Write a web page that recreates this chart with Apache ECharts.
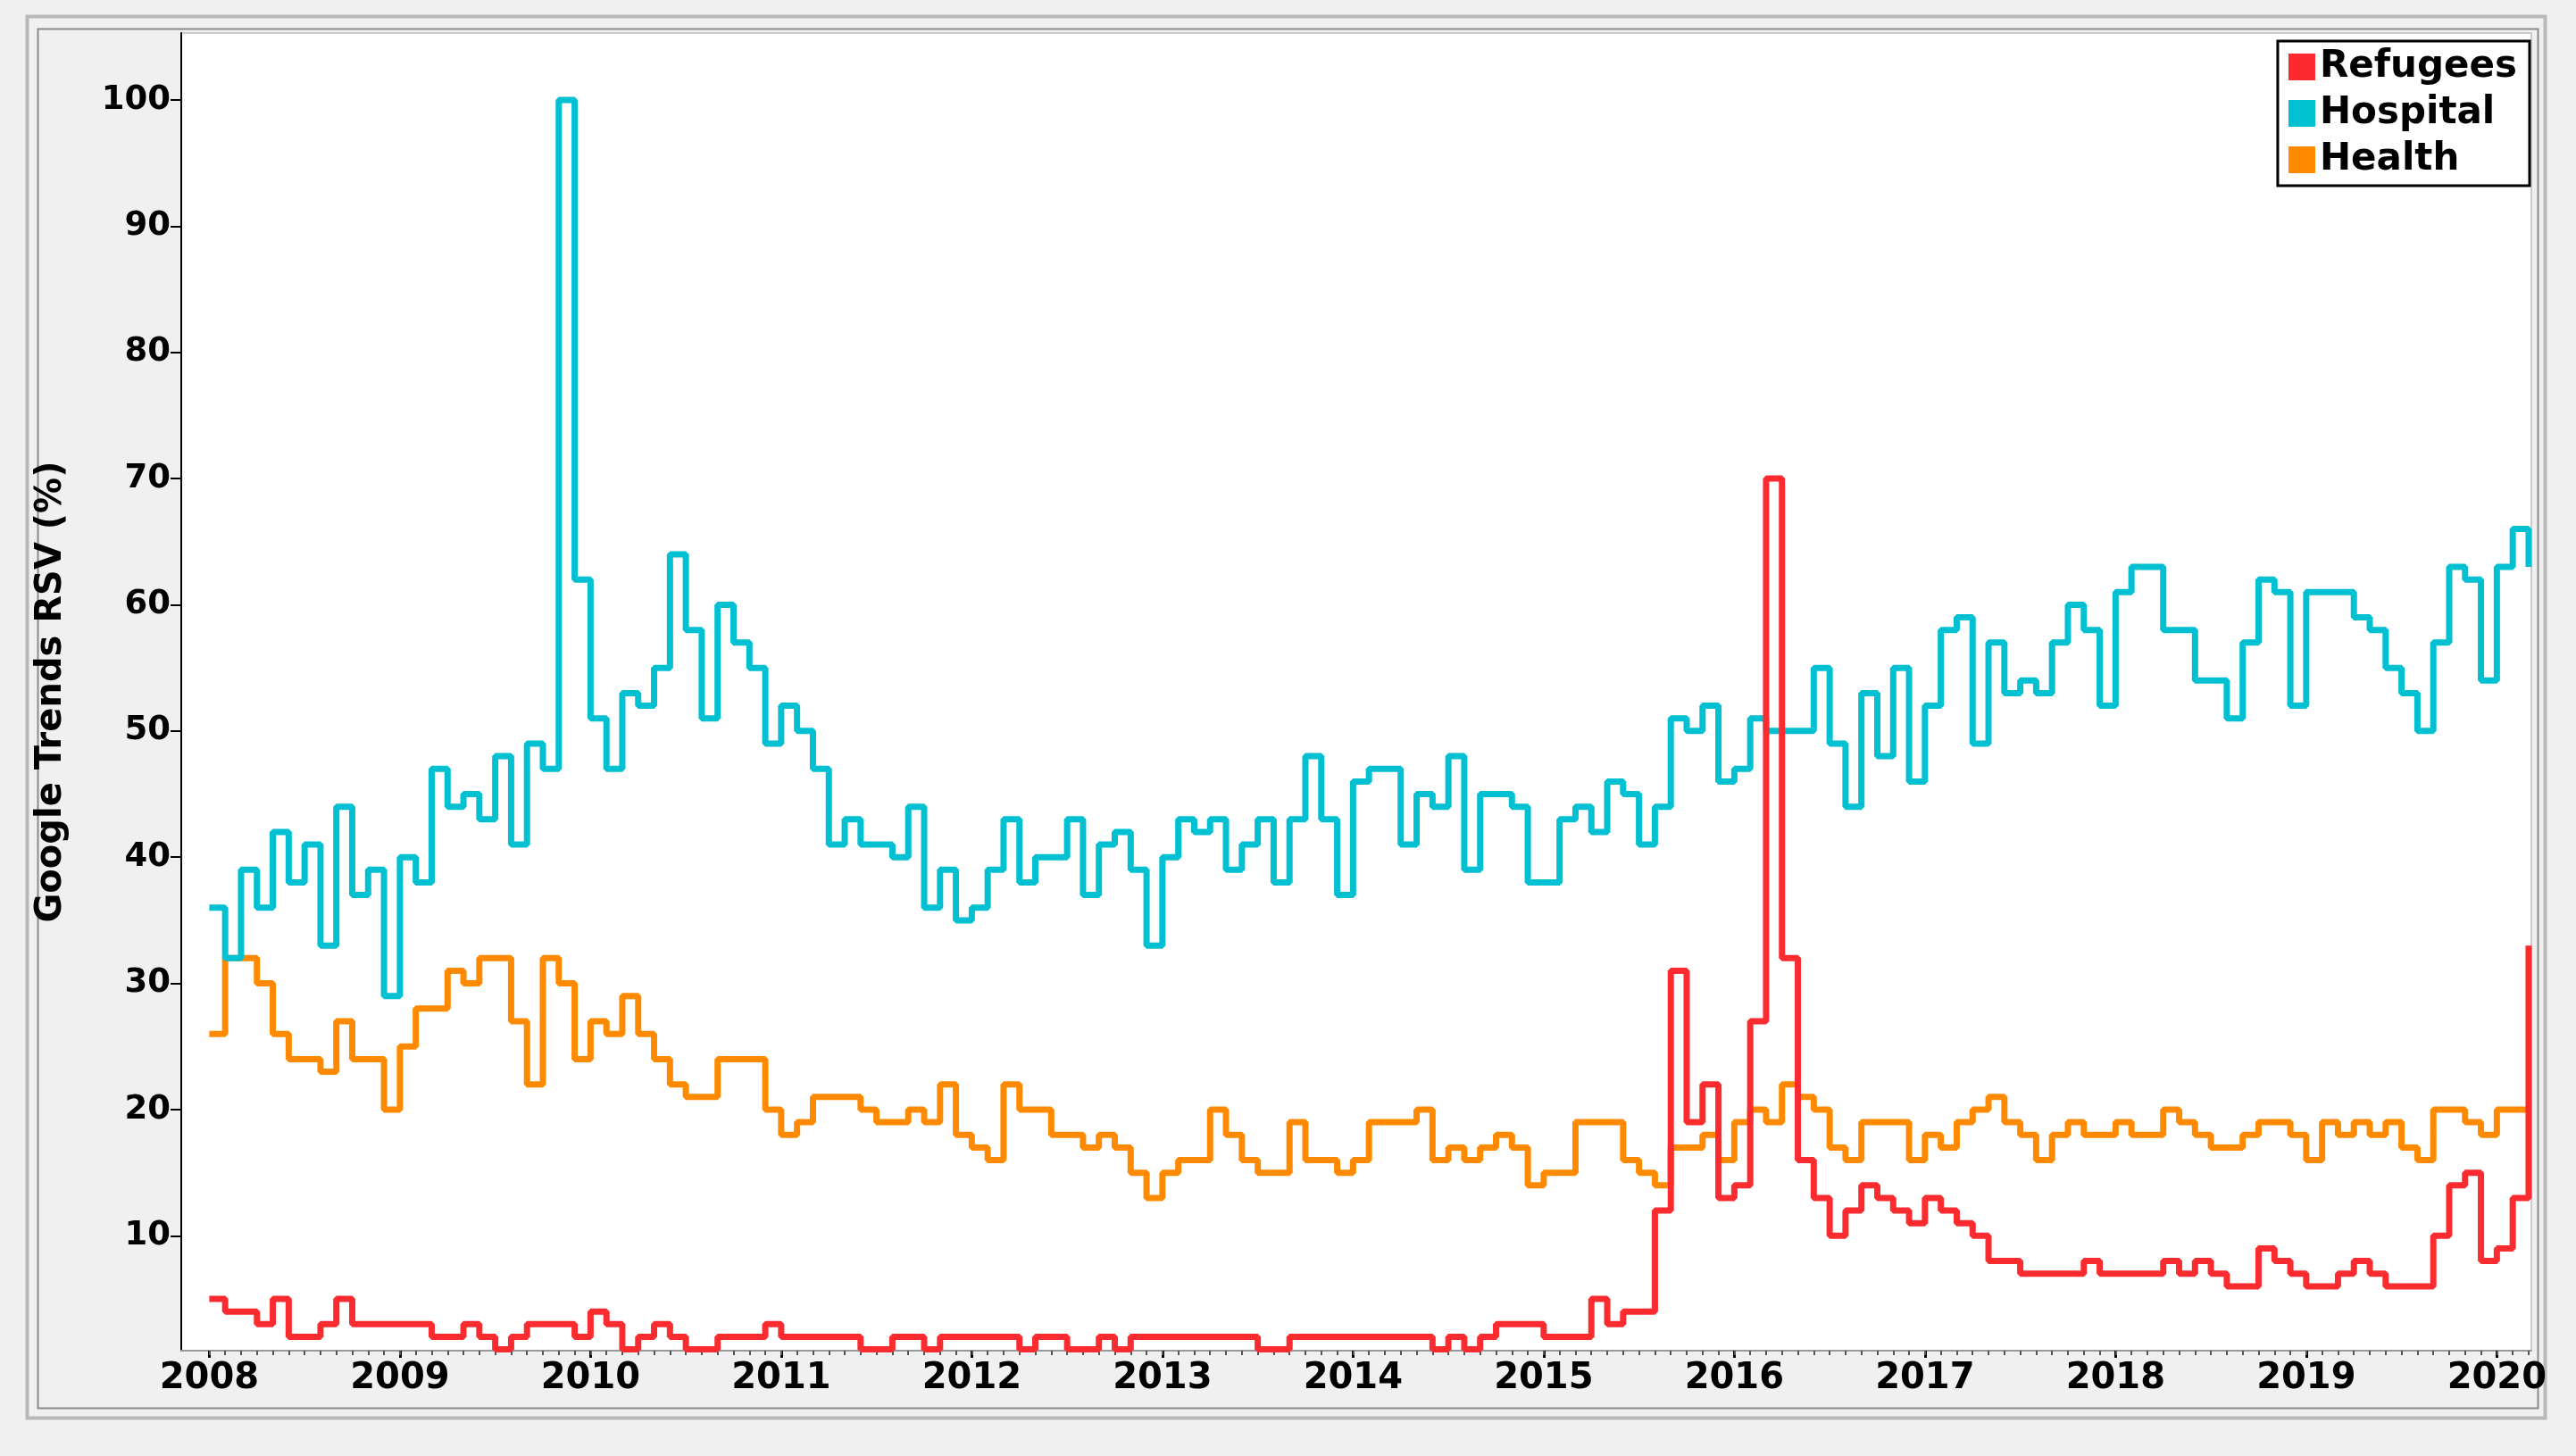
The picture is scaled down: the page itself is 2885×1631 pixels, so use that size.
<!DOCTYPE html>
<html lang="en">
<head>
<meta charset="UTF-8">
<title>Google Trends RSV</title>
<script src="https://cdn.jsdelivr.net/npm/echarts@6/dist/echarts.min.js"></script>
<style>
html, body { margin: 0; padding: 0; background: #ffffff; }
#chart { width: 2885px; height: 1631px; }
</style>
</head>
<body>
<div id="chart"></div>
<script>
// monthly values, Jan 2008 .. Mar 2020
var startYear = 2008;
var yearTicks = [2008, 2009, 2010, 2011, 2012, 2013, 2014, 2015, 2016, 2017, 2018, 2019, 2020];
var yTicks = [10, 20, 30, 40, 50, 60, 70, 80, 90, 100];

var refugees = [
    5,4,4,3,5,2,2,3,5,3,3,3,
    3,3,2,2,3,2,1,2,3,3,3,2,
    4,3,1,2,3,2,1,1,2,2,2,3,
    2,2,2,2,2,1,1,2,2,1,2,2,
    2,2,2,1,2,2,1,1,2,1,2,2,
    2,2,2,2,2,2,1,1,2,2,2,2,
    2,2,2,2,2,1,2,1,2,3,3,3,
    2,2,2,5,3,4,4,12,31,19,22,13,
    14,27,70,32,16,13,10,12,14,13,12,11,
    13,12,11,10,8,8,7,7,7,7,8,7,
    7,7,7,8,7,8,7,6,6,9,8,7,
    6,6,7,8,7,6,6,6,10,14,15,8,
    9,13,33
];
var hospital = [
    36,32,39,36,42,38,41,33,44,37,39,29,
    40,38,47,44,45,43,48,41,49,47,100,62,
    51,47,53,52,55,64,58,51,60,57,55,49,
    52,50,47,41,43,41,41,40,44,36,39,35,
    36,39,43,38,40,40,43,37,41,42,39,33,
    40,43,42,43,39,41,43,38,43,48,43,37,
    46,47,47,41,45,44,48,39,45,45,44,38,
    38,43,44,42,46,45,41,44,51,50,52,46,
    47,51,50,50,50,55,49,44,53,48,55,46,
    52,58,59,49,57,53,54,53,57,60,58,52,
    61,63,63,58,58,54,54,51,57,62,61,52,
    61,61,61,59,58,55,53,50,57,63,62,54,
    63,66,63
];
var health = [
    26,32,32,30,26,24,24,23,27,24,24,20,
    25,28,28,31,30,32,32,27,22,32,30,24,
    27,26,29,26,24,22,21,21,24,24,24,20,
    18,19,21,21,21,20,19,19,20,19,22,18,
    17,16,22,20,20,18,18,17,18,17,15,13,
    15,16,16,20,18,16,15,15,19,16,16,15,
    16,19,19,19,20,16,17,16,17,18,17,14,
    15,15,19,19,19,16,15,14,17,17,18,16,
    19,20,19,22,21,20,17,16,19,19,19,16,
    18,17,19,20,21,19,18,16,18,19,18,18,
    19,18,18,20,19,18,17,17,18,19,19,18,
    16,19,18,19,18,19,17,16,20,20,19,18,
    20,20,20
];

function toPairs(values) {
    return values.map(function (v, i) { return [startYear + i / 12, v]; });
}
var monthTicks = [];
for (var i = 0; i < refugees.length; i++) { monthTicks.push(startYear + i / 12); }

var labelFont = { fontFamily: 'DejaVu Sans', fontWeight: 'bold', color: '#000' };
var xMin = 2007.853, xMax = 2020.181;

var chart = echarts.init(document.getElementById('chart'));
chart.setOption({
    backgroundColor: '#f0f0f0',
    animation: false,
    graphic: [
        { type: 'rect', left: 28, top: 16, shape: { width: 2820, height: 1570 },
          style: { fill: 'none', stroke: '#b8b8b8', lineWidth: 4 }, z: -1 },
        { type: 'rect', left: 40, top: 30, shape: { width: 2800, height: 1545 },
          style: { fill: 'none', stroke: '#8a8a8a', lineWidth: 2 }, z: -1 }
    ],
    grid: {
        left: 203, right: 50, top: 37, bottom: 118,
        show: true, backgroundColor: '#ffffff', borderColor: '#a0a0a0', borderWidth: 1
    },
    legend: {
        orient: 'vertical', right: 52, top: 46,
        backgroundColor: '#ffffff', borderColor: '#000', borderWidth: 3,
        padding: [8, 14, 8, 12], itemGap: 10,
        icon: 'rect', itemWidth: 30, itemHeight: 30,
        textStyle: { fontFamily: 'DejaVu Sans', fontWeight: 'bold', fontSize: 42, color: '#000' },
        data: ['Refugees', 'Hospital', 'Health']
    },
    xAxis: [{
        type: 'value', min: xMin, max: xMax,
        axisLine: { show: true, onZero: false, lineStyle: { color: '#999', width: 2 } },
        splitLine: { show: false },
        axisTick: { show: true, customValues: yearTicks, length: 8, lineStyle: { color: '#000', width: 3 } },
        axisLabel: Object.assign({ customValues: yearTicks, fontSize: 40, margin: 12,
            formatter: function (v) { return String(Math.round(v)); } }, labelFont)
    }, {
        type: 'value', min: xMin, max: xMax, position: 'bottom',
        axisLine: { show: false },
        splitLine: { show: false },
        axisTick: { show: true, customValues: monthTicks, length: 5, lineStyle: { color: '#555', width: 2 } },
        axisLabel: { show: false }
    }],
    yAxis: {
        type: 'value', min: 0.9, max: 105.3,
        name: 'Google Trends RSV (%)', nameLocation: 'middle', nameGap: 125, nameRotate: 90,
        nameTextStyle: { fontFamily: 'DejaVu Sans', fontWeight: 'bold', fontSize: 40, color: '#000' },
        axisLine: { show: true, lineStyle: { color: '#000', width: 2 } },
        splitLine: { show: false },
        axisTick: { show: true, customValues: yTicks, length: 12, lineStyle: { color: '#000', width: 2 } },
        axisLabel: Object.assign({ customValues: yTicks, fontSize: 37, margin: 12 }, labelFont)
    },
    series: [
        { name: 'Refugees', type: 'line', step: 'end', showSymbol: false, data: toPairs(refugees),
          color: '#fb2b2f', lineStyle: { width: 7 }, z: 4 },
        { name: 'Hospital', type: 'line', step: 'end', showSymbol: false, data: toPairs(hospital),
          color: '#00c0d2', lineStyle: { width: 7 }, z: 3 },
        { name: 'Health', type: 'line', step: 'end', showSymbol: false, data: toPairs(health),
          color: '#ff8a00', lineStyle: { width: 7 }, z: 2 }
    ]
});
</script>
</body>
</html>
